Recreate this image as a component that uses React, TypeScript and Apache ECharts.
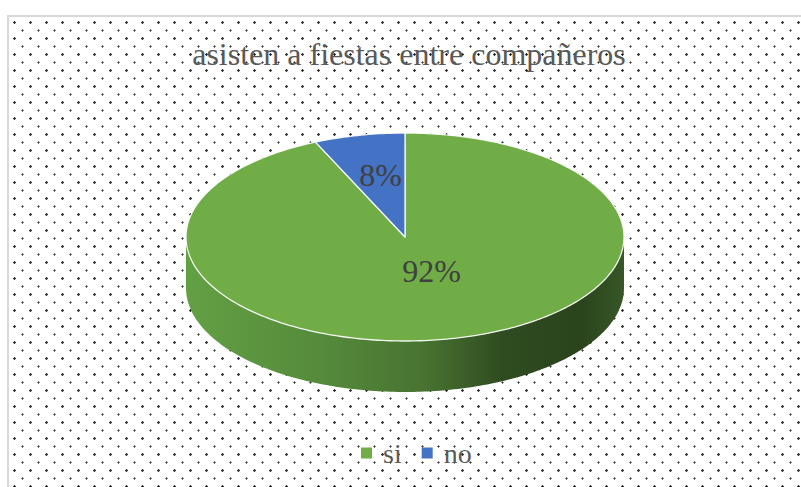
import React, { useEffect, useRef } from "react";
import * as echarts from "echarts";

// ---- data ----
const chartTitle = "asisten a fiestas entre compañeros";
const categories = ["si", "no"];
const values = [92, 8];
const colors = ["#70AD47", "#4472C4"];

// ---- geometry / style ----
const CX = 405;
const CY = 237;
const RX = 219;
const RY = 104;
const DEPTH = 51;
const PERSP = 0.2;
const SERIF = "'Liberation Serif', 'Times New Roman', serif";

const total = values.reduce((a, b) => a + b, 0);

function proj(phi: number): number {
  let p = Math.atan2(Math.sin(phi), Math.cos(phi) + PERSP);
  if (p < 0) p += Math.PI * 2;
  if (phi > Math.PI && p < 1e-9) p = Math.PI * 2;
  return p;
}

function pt(psi: number, r: number, dy: number): number[] {
  return [CX + RX * r * Math.sin(psi), CY - RY * r * Math.cos(psi) + dy];
}

function arc(a0: number, a1: number, dy: number): number[][] {
  const n = Math.max(2, Math.ceil(Math.abs(a1 - a0) / (Math.PI / 180)));
  const out: number[][] = [];
  for (let k = 0; k <= n; k++) {
    const a = a0 + ((a1 - a0) * k) / n;
    out.push(pt(a, 1, dy));
  }
  return out;
}

function makeRender(idx: number) {
  return function (_params: any, _api: any) {
    const before = values.slice(0, idx).reduce((a, b) => a + b, 0);
    const phi0 = (before / total) * Math.PI * 2;
    const phi1 = ((before + values[idx]) / total) * Math.PI * 2;
    const p0 = proj(phi0);
    const p1 = proj(phi1);
    const children: any[] = [];

    // side wall (front half only)
    const s = Math.max(p0, Math.PI / 2);
    const e = Math.min(p1, (Math.PI * 3) / 2);
    if (e > s) {
      const topPts = arc(s, e, 0);
      const botPts = arc(e, s, DEPTH);
      children.push({
        type: "polygon",
        z2: 1,
        shape: { points: topPts.concat(botPts) },
        style: {
          fill: new echarts.graphic.LinearGradient(
            CX - RX,
            0,
            CX + RX,
            0,
            [
              { offset: 0, color: "#63a044" },
              { offset: 0.3, color: "#558b3b" },
              { offset: 0.55, color: "#487231" },
              { offset: 0.72, color: "#2f4c20" },
              { offset: 0.9, color: "#2a431c" },
              { offset: 1, color: "#375727" },
            ],
            true
          ),
          stroke: null,
        },
      });
    }

    // top face
    const topFace = [[CX, CY]].concat(arc(p0, p1, 0));
    children.push({
      type: "polygon",
      z2: 5,
      shape: { points: topFace },
      style: {
        fill: colors[idx],
        stroke: "rgba(255,255,255,0.9)",
        lineWidth: 1.3,
        lineJoin: "round",
      },
    });

    // label
    const share = values[idx] / total;
    const mid = proj((phi0 + phi1) / 2);
    const lr = share > 0.15 ? 0.35 : 0.6;
    const lp = pt(mid, lr, 0);
    children.push({
      type: "text",
      z2: 10,
      x: lp[0] + 3,
      y: lp[1] - 1,
      style: {
        text: Math.round(share * 100) + "%",
        fill: "#404040",
        font: "32px " + SERIF,
        align: "center",
        verticalAlign: "middle",
      },
    });

    return { type: "group", children };
  };
}

export default function App() {
  const ref = useRef<HTMLDivElement>(null);

  useEffect(() => {
    if (!ref.current) return;
    const chart = echarts.init(ref.current, undefined, { renderer: "svg" });
    chart.setOption({
      animation: false,
      backgroundColor: "transparent",
      graphic: [
        {
          type: "text",
          x: 409,
          y: 54,
          style: {
            text: chartTitle,
            fill: "#595959",
            font: "32px " + SERIF,
            align: "center",
            verticalAlign: "middle",
          },
        },
      ],
      legend: {
        data: categories,
        left: 356,
        top: 434,
        icon: "rect",
        itemWidth: 11,
        itemHeight: 11,
        itemGap: 20,
        textStyle: {
          fontFamily: SERIF,
          fontSize: 28,
          color: "#595959",
          padding: [0, 0, 0, 6],
        },
      },
      series: categories.map((name, i) => ({
        type: "custom",
        name,
        coordinateSystem: "none",
        itemStyle: { color: colors[i] },
        data: [[values[i]]],
        renderItem: makeRender(i),
      })),
    });
    return () => chart.dispose();
  }, []);

  const dots =
    "radial-gradient(circle at 5.5px 5.5px, #1a1a1a 0.9px, rgba(0,0,0,0) 1.5px)," +
    "radial-gradient(circle at 13.5px 13.5px, #3a3a3a 0.8px, rgba(0,0,0,0) 1.4px)";

  return (
    <div
      style={{
        position: "fixed",
        left: 0,
        top: 0,
        width: 801,
        height: 487,
        overflow: "hidden",
        background: "#ffffff",
      }}
    >
      <div
        style={{
          position: "absolute",
          left: 7,
          top: 15,
          width: 900,
          height: 600,
          borderTop: "2px solid #d9d9d9",
          borderLeft: "2px solid #d9d9d9",
          backgroundImage: dots,
          backgroundSize: "16px 16px",
        }}
      />
      <div
        ref={ref}
        style={{ position: "absolute", left: 0, top: 0, width: 801, height: 487 }}
      />
    </div>
  );
}
